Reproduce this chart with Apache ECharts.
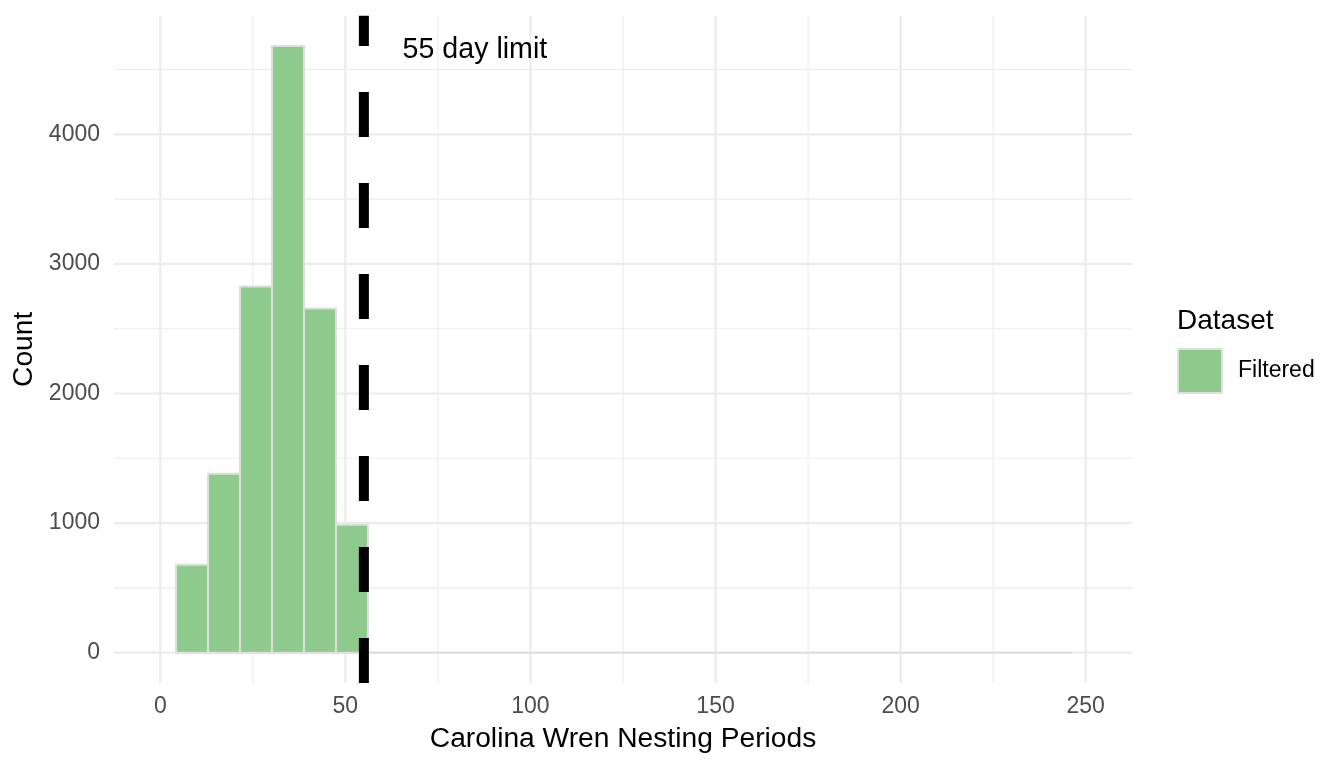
<!DOCTYPE html>
<html><head><meta charset="utf-8">
<script src="https://cdn.jsdelivr.net/npm/echarts@6/dist/echarts.min.js"></script>
<style>html,body{margin:0;padding:0;background:#fff}#c{width:1344px;height:768px}</style>
</head><body><div id="c"></div>
<script>
// ---- data ----
const binStarts = [4.24, 12.89, 21.53, 30.17, 38.82, 47.46, 56.1];
const binEnds   = [12.89, 21.53, 30.17, 38.82, 47.46, 56.1, 246.3];
const counts    = [679, 1380, 2825, 4681, 2655, 987, 0];
const xTickValues  = [0, 50, 100, 150, 200, 250];
const xMinorValues = [25, 75, 125, 175, 225];
const yTickValues  = [0, 1000, 2000, 3000, 4000];
const yMinorValues = [500, 1500, 2500, 3500, 4500];
const limitDay = 55;
const limitLabel = '55 day limit';
const labelPos = [85, 4650];
const seriesName = 'Filtered';
const legendTitle = 'Dataset';
const xTitle = 'Carolina Wren Nesting Periods';
const yTitle = 'Count';

const FONT = '"Liberation Sans", Arial, Helvetica, sans-serif';
const GRID_COL = '#ebebeb';
const FILL = '#8ECA8C';
const OUTLINE = '#dedede';

const chart = echarts.init(document.getElementById('c'), null, {renderer: 'canvas'});

function vLine(width) {
  return function (params, api) {
    const cs = params.coordSys;
    const x = api.coord([api.value(0), 0])[0];
    return {type: 'line', silent: true,
      shape: {x1: x, y1: cs.y, x2: x, y2: cs.y + cs.height},
      style: {stroke: GRID_COL, lineWidth: width}};
  };
}
function hLine(width) {
  return function (params, api) {
    const cs = params.coordSys;
    const y = api.coord([0, api.value(1)])[1];
    return {type: 'line', silent: true,
      shape: {x1: cs.x, y1: y, x2: cs.x + cs.width, y2: y},
      style: {stroke: GRID_COL, lineWidth: width}};
  };
}
function showIf(list) {
  return function (v) { return list.indexOf(v) >= 0 ? String(v) : ''; };
}

const option = {
  animation: false,
  backgroundColor: '#ffffff',
  textStyle: {fontFamily: FONT},
  grid: {left: 114, right: 212, top: 15.7, bottom: 85, containLabel: false},
  title: {
    text: legendTitle, left: 1177, top: 307, padding: 0,
    textStyle: {fontFamily: FONT, fontSize: 28, fontWeight: 'normal', color: '#000'}
  },
  legend: {
    left: 1177, top: 348, padding: 0, orient: 'vertical',
    itemWidth: 44, itemHeight: 44, selectedMode: false,
    data: [{name: seriesName, icon: 'rect',
      itemStyle: {color: FILL, borderColor: OUTLINE, borderWidth: 2}}],
    textStyle: {fontFamily: FONT, fontSize: 23, color: '#000', padding: [2, 0, 0, 11]}
  },
  xAxis: {
    type: 'value', min: -12.5, max: 262.5,
    name: xTitle, nameLocation: 'middle', nameGap: 42,
    nameTextStyle: {fontFamily: FONT, fontSize: 28.2, color: '#000'},
    axisLine: {show: false}, axisTick: {show: false}, splitLine: {show: false},
    axisLabel: {customValues: xTickValues, formatter: showIf(xTickValues),
      showMinLabel: true, showMaxLabel: true,
      fontFamily: FONT, fontSize: 23, color: '#4d4d4d', margin: 12}
  },
  yAxis: {
    type: 'value', min: -234, max: 4915,
    name: yTitle, nameLocation: 'middle', nameGap: 70, nameRotate: 90,
    nameTextStyle: {fontFamily: FONT, fontSize: 28.2, color: '#000'},
    axisLine: {show: false}, axisTick: {show: false}, splitLine: {show: false},
    axisLabel: {customValues: yTickValues, formatter: showIf(yTickValues),
      fontFamily: FONT, fontSize: 23, color: '#4d4d4d', margin: 14}
  },
  series: [
    {type: 'custom', name: 'gridXMinor', z: 0, silent: true, renderItem: vLine(1.1),
     data: xMinorValues.map(v => [v, 0]), encode: {x: 0, y: 1}},
    {type: 'custom', name: 'gridYMinor', z: 0, silent: true, renderItem: hLine(1.1),
     data: yMinorValues.map(v => [0, v]), encode: {x: 0, y: 1}},
    {type: 'custom', name: 'gridXMajor', z: 1, silent: true, renderItem: vLine(2.2),
     data: xTickValues.map(v => [v, 0]), encode: {x: 0, y: 1}},
    {type: 'custom', name: 'gridYMajor', z: 1, silent: true, renderItem: hLine(2.2),
     data: yTickValues.map(v => [0, v]), encode: {x: 0, y: 1}},
    {
      type: 'custom', name: seriesName, z: 2,
      itemStyle: {color: FILL, borderColor: OUTLINE, borderWidth: 2},
      data: binStarts.map((s, i) => [s, binEnds[i], counts[i]]),
      encode: {x: [0, 1], y: 2},
      renderItem: function (params, api) {
        const p0 = api.coord([api.value(0), api.value(2)]);
        const p1 = api.coord([api.value(1), 0]);
        return {type: 'rect',
          shape: {x: p0[0], y: p0[1], width: p1[0] - p0[0], height: p1[1] - p0[1]},
          style: {fill: FILL, stroke: OUTLINE, lineWidth: 2}};
      }
    },
    {
      type: 'custom', name: 'limit', z: 3, silent: true,
      data: [[limitDay, 0]], encode: {x: 0, y: 1},
      renderItem: function (params, api) {
        const cs = params.coordSys;
        const x = api.coord([api.value(0), 0])[0];
        return {type: 'line',
          shape: {x1: x, y1: cs.y + cs.height, x2: x, y2: cs.y},
          style: {stroke: '#000', lineWidth: 10, lineDash: [45, 46], lineCap: 'butt'}};
      }
    },
    {
      type: 'custom', name: 'limitLabel', z: 4, silent: true,
      data: [labelPos], encode: {x: 0, y: 1},
      renderItem: function (params, api) {
        const p = api.coord([api.value(0), api.value(1)]);
        return {type: 'text', x: p[0], y: p[1],
          style: {text: limitLabel, fontFamily: FONT, fontSize: 28.6, fill: '#000',
            align: 'center', verticalAlign: 'middle'}};
      }
    }
  ]
};
chart.setOption(option);
</script>
</body></html>
